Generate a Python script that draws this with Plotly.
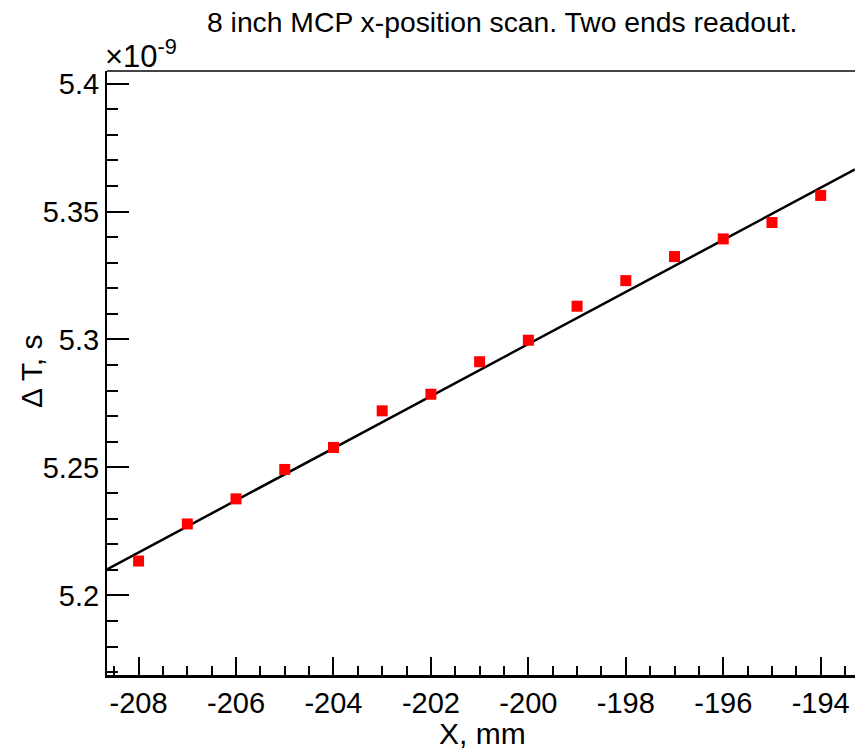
import plotly.graph_objects as go

# ---- data (x in mm, delta T in units of 1e-9 s) ----
x_mm = [-208, -207, -206, -205, -204, -203, -202, -201, -200, -199, -198, -197, -196, -195, -194]
dT_ns = [5.2134, 5.2279, 5.2377, 5.2492, 5.2578, 5.2721, 5.2786, 5.2913, 5.2997,
         5.3130, 5.3230, 5.3324, 5.3393, 5.3457, 5.3563]

# linear fit parameters: value at x=-200 mm and slope per mm
fit_ref_x = -200.0
fit_ref_y = 5.2982
fit_slope = 0.01018

x_range = [-208.648, -193.296]
y_range = [5.16887, 5.40492]

x_ticks = [-208, -206, -204, -202, -200, -198, -196, -194]
x_ticklabels = ["-208", "-206", "-204", "-202", "-200", "-198", "-196", "-194"]
y_ticks = [5.2, 5.25, 5.3, 5.35, 5.4]
y_ticklabels = ["5.2", "5.25", "5.3", "5.35", "5.4"]

title_text = "8 inch MCP x-position scan. Two ends readout."
x_title = "X, mm"
y_title = "Δ T, s"
exp_text = "×10<sup>-9</sup>"

FONT = "Liberation Sans, Arial, sans-serif"

fit_x = x_range
fit_y = [fit_ref_y + fit_slope * (v - fit_ref_x) for v in fit_x]

W, H = 855, 751
L, R, T, B = 107, 0, 71, 76
pw, ph = W - L - R, H - T - B


def px(xp):
    return (xp - L) / pw


def py(yp):
    return (H - B - yp) / ph


fig = go.Figure()
fig.add_trace(go.Scatter(x=fit_x, y=fit_y, mode="lines",
                         line=dict(color="black", width=2.5), hoverinfo="skip"))
fig.add_trace(go.Scatter(x=x_mm, y=dT_ns, mode="markers",
                         marker=dict(symbol="square", size=11, color="#ff0000",
                                     line=dict(width=0))))

fig.update_layout(
    width=W, height=H,
    margin=dict(l=L, r=R, t=T, b=B, pad=0),
    paper_bgcolor="white", plot_bgcolor="white",
    showlegend=False,
    font=dict(family=FONT, color="black", size=29),
    xaxis=dict(range=x_range, tickmode="array", tickvals=x_ticks, ticktext=x_ticklabels,
               ticks="inside", ticklen=18, tickwidth=1.5, tickcolor="black",
               showgrid=False, zeroline=False,
               showline=True, linecolor="black", linewidth=3,
               tickfont=dict(size=29, family=FONT),
               minor=dict(dtick=0.5, tick0=-208, ticks="inside", ticklen=9,
                          tickwidth=1.5, tickcolor="black", showgrid=False)),
    yaxis=dict(range=y_range, tickmode="array", tickvals=y_ticks, ticktext=y_ticklabels,
               ticks="inside", ticklen=22, tickwidth=1.5, tickcolor="black",
               showgrid=False, zeroline=False,
               showline=True, linecolor="black", linewidth=2,
               tickfont=dict(size=29, family=FONT),
               minor=dict(dtick=0.01, tick0=5.2, ticks="inside", ticklen=11,
                          tickwidth=1.5, tickcolor="black", showgrid=False)),
    shapes=[dict(type="line", xref="paper", yref="paper", x0=0, x1=1, y0=1, y1=1,
                 line=dict(color="#444444", width=2))],
    annotations=[
        dict(text=title_text, xref="paper", yref="paper", x=px(502), y=py(22),
             xanchor="center", yanchor="middle", showarrow=False,
             font=dict(size=28.3, family=FONT)),
        dict(text=x_title, xref="paper", yref="paper", x=px(482), y=py(734),
             xanchor="center", yanchor="middle", showarrow=False,
             font=dict(size=30, family=FONT)),
        dict(text=y_title, xref="paper", yref="paper", x=px(31), y=py(372),
             xanchor="center", yanchor="middle", showarrow=False, textangle=-90,
             font=dict(size=30, family=FONT)),
        dict(text=exp_text, xref="paper", yref="paper", x=px(103), y=py(54),
             xanchor="left", yanchor="middle", showarrow=False,
             font=dict(size=31, family=FONT)),
    ],
)

fig.write_html("out.html")
